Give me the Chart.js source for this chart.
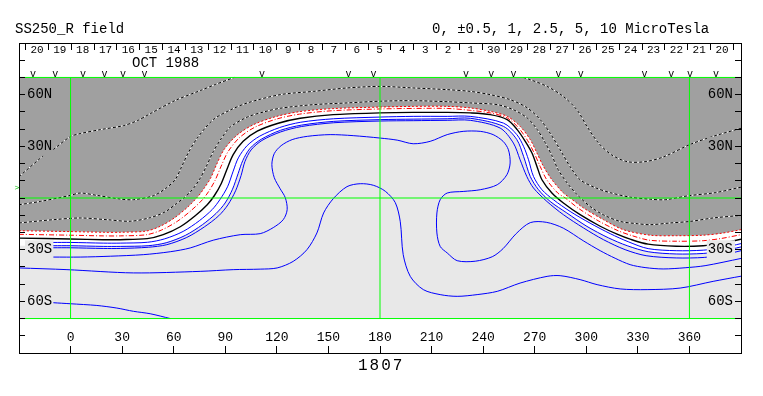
<!DOCTYPE html>
<html><head><meta charset="utf-8">
<style>
html,body{margin:0;padding:0;background:#fff;}
#wrap{position:relative;width:763px;height:396px;overflow:hidden;background:#fff;}
canvas{position:absolute;left:0;top:0;}
.t{position:absolute;font-family:'Liberation Mono',monospace;color:#000;white-space:pre;line-height:16px;}
</style>
<script src="https://cdn.jsdelivr.net/npm/chart.js@4.4.1/dist/chart.umd.min.js"></script>
</head><body>
<div id="wrap">
<canvas id="c" width="763" height="396"></canvas>
<div class="t" style="left:15px;top:21px;font-size:14px;">SS250_R field</div>
<div class="t" style="left:432px;top:21px;font-size:14px;">0, ±0.5, 1, 2.5, 5, 10 MicroTesla</div>
<div class="t" style="left:132px;top:55px;font-size:14px;">OCT 1988</div>
<div class="t" style="left:358px;top:357px;font-size:16px;line-height:18px;letter-spacing:2px;">1807</div>
</div>
<script>
// ---- tick labels ----
const dayLabels = ['20','19','18','17','16','15','14','13','12','11','10','9','8','7','6','5','4','3','2','1','30','29','28','27','26','25','24','23','22','21','20'];
const lonTicks = [0,30,60,90,120,150,180,210,240,270,300,330,360];
const latTicks = [-90,-80,-70,-60,-50,-40,-30,-20,-10,0,10,20,30,40,50,60,70,80,90];
const latNames = {'60':'60N','30':'30N','-30':'30S','-60':'60S'};
const vMarkLons = [-21.9,-8.9,7.2,19.8,30.5,43.0,111.3,161.7,176.2,230.1,244.7,257.6,283.8,296.8,333.8,349.4,360.4,375.5];
const vMarkLat = 72;
const sideMark = [-31.2, 6];

// ---- reference lines ----
const lat70 = [[-30,70],[390,70]];
const equator = [[-30,0],[390,0]];
const latS70 = [[-30,-70],[390,-70]];
const mer0 = [[0,-70],[0,70]];
const mer180 = [[180,-70],[180,70]];
const mer360 = [[360,-70],[360,70]];

// ---- contour lines [lon, lat] ----
const d1West = [[-30,12.4],[-15.9,24.6],[-13,null],[-10.1,28.1],[-0.2,35.6],[5.6,37.4],[17.3,39.7],[30.7,42.0],[38.8,44.9],[46.4,49.0],[60.8,56.6],[75.5,62.4],[84.2,65.9],[95.2,70]];
const d1East = [[263.3,70],[267.4,68.7],[277.2,64.8],[286.6,59.0],[294.7,51.0],[300.5,41.4],[306.9,32.2],[314.5,25.2],[323.8,21.1],[334.2,21.1],[344.7,23.8],[360.4,31.1],[373.8,35.8],[390,40.5]];
const d2 = [[-30,-3.9],[-17.6,-2.0],[-0.2,1.5],[5.6,2.9],[15.5,1.5],[28.9,-0.6],[36.5,-1.0],[48.1,1.3],[55.1,5.4],[60.8,10.6],[64.9,18.8],[68.5,26.3],[73.7,34.8],[83.0,45.5],[92.9,51.1],[102.8,55.2],[121.9,60.0],[141.2,61.9],[160.9,63.9],[180.1,64.8],[199.3,63.9],[219.1,62.9],[232.5,61.9],[244.1,60.0],[255.7,57.1],[265.6,52.4],[273.2,45.5],[279.0,37.6],[284.8,28.0],[290.6,18.2],[296.4,10.6],[305.2,6.0],[313.9,3.1],[325.5,0.5],[337.2,-0.7],[345.9,-1.0],[359.3,1.3],[375.0,3.1],[390,6.3]];
const d3 = [[-30,-14.5],[-10.1,-12.6],[5.6,-11.6],[21.3,-12.6],[34.7,-13.5],[46.4,-11.4],[55.1,-8.0],[61.5,-3.3],[66.1,0.2],[70.8,4.8],[74.9,10.6],[78.9,18.2],[83.0,26.9],[87.6,34.4],[92.9,41.2],[102.8,47.0],[112.1,49.9],[121.9,52.1],[141.2,54.2],[160.9,55.2],[180.1,56.2],[199.3,56.5],[219.1,55.9],[232.5,55.2],[248.2,54.2],[257.5,51.3],[265.6,46.5],[271.5,39.7],[276.1,32.1],[280.2,24.2],[283.6,16.5],[288.9,8.7],[294.7,1.9],[302.2,-4.9],[309.8,-9.7],[319.7,-13.6],[329.6,-14.9],[337.2,-15.5],[348.8,-14.5],[360.4,-13.6],[373.8,-11.6],[390,-10.1]];
const r1 = [[-30,-19.0],[-0.2,-19.5],[19.0,-19.9],[28.9,-19.9],[44.0,-19.2],[52.2,-16.4],[60.6,-11.4],[68.3,-5.1],[74.3,1.1],[77.5,5.4],[81.4,11.4],[85.0,19.6],[89.4,28.3],[96.8,36.5],[106.4,42.6],[119.6,47.3],[133.0,50.1],[152.6,51.9],[180.1,52.8],[199.3,53.2],[219.1,53.2],[232.5,52.3],[244.1,50.3],[254.0,47.4],[261.5,41.6],[267.4,33.9],[271.3,26.1],[275.1,18.3],[280.0,10.6],[286.7,2.9],[290.6,0.0],[298.4,-5.8],[310.0,-12.6],[321.6,-18.4],[337.2,-21.6],[352.3,-21.9],[368.0,-21.6],[379.1,-20.4],[390,-18.4]];
const r2 = [[-30,-21.1],[-0.2,-21.6],[19.0,-22.0],[28.9,-22.0],[44.3,-21.3],[52.9,-18.6],[62.0,-13.6],[70.1,-7.3],[76.6,-1.1],[80.2,3.6],[84.0,10.1],[87.6,18.5],[91.6,26.9],[98.2,35.0],[107.2,41.1],[120.0,45.9],[133.2,48.7],[152.6,50.7],[180.1,51.7],[199.3,52.0],[219.1,52.0],[232.5,50.9],[244.1,49.4],[254.0,46.5],[260.7,40.6],[265.9,33.3],[269.7,26.1],[273.2,18.3],[277.0,10.6],[283.4,2.9],[287.8,0.0],[295.3,-5.9],[306.9,-13.2],[318.5,-19.0],[326.7,-21.9],[336.6,-24.5],[352.3,-25.1],[368.0,-24.8],[378.5,-23.5],[390,-21.3]];
const k0 = [[-30,-23.3],[-0.2,-23.8],[19.0,-24.2],[28.9,-24.2],[44.6,-23.6],[53.9,-21.3],[63.8,-16.7],[72.5,-10.3],[79.5,-3.9],[83.6,1.3],[87.6,8.3],[91.1,17.0],[94.6,25.2],[100.4,32.9],[108.6,38.8],[120.8,43.4],[133.6,46.3],[152.8,48.4],[180.1,49.4],[199.3,49.7],[219.1,49.7],[232.5,49.4],[244.1,48.4],[254.0,45.5],[259.8,39.7],[264.5,32.9],[268.4,26.1],[271.3,18.3],[274.2,10.6],[280.0,2.9],[286.7,-2.9],[296.4,-9.7],[308.1,-16.4],[317.9,-21.0],[325.5,-23.9],[336.0,-26.8],[352.3,-28.0],[368.0,-27.7],[379.1,-26.2],[390,-23.9]];
const b1 = [[-10.1,-25.8],[-0.2,-25.8],[19.0,-26.2],[28.9,-26.2],[44.8,-25.7],[54.8,-23.7],[65.5,-19.4],[74.9,-13.2],[82.4,-6.7],[86.9,-0.9],[91.3,6.5],[94.6,15.6],[97.6,23.3],[102.7,30.4],[110.0,35.9],[121.6,40.9],[133.9,44.0],[153.0,46.0],[180.1,47.0],[199.3,47.4],[219.1,47.4],[232.5,47.4],[251.8,43.5],[259.6,36.8],[263.5,30.0],[266.4,22.2],[269.3,12.5],[274.2,4.8],[280.9,-1.0],[290.6,-7.8],[302.2,-14.6],[313.9,-20.7],[324.4,-25.4],[336.0,-29.4],[352.3,-30.6],[368.0,-30.3],[379.1,-28.9],[390,-26.5]];
const b2 = [[-30,-27.7],[-10.1,-27.7],[-0.2,-27.7],[19.0,-28.1],[28.9,-28.1],[45.1,-27.7],[55.6,-26.0],[66.8,-21.7],[76.7,-15.5],[84.7,-8.9],[89.9,-2.9],[94.2,5.1],[97.5,14.3],[100.2,21.8],[104.3,28.7],[110.9,34.1],[122.1,39.3],[134.2,42.3],[153.1,44.5],[180.1,45.5],[199.3,45.8],[219.1,46.0],[232.5,46.3],[251.8,41.6],[259.6,33.9],[263.5,24.2],[267.4,12.5],[272.2,4.8],[279.0,-2.0],[288.7,-8.7],[300.4,-16.5],[312.8,-23.1],[323.8,-27.7],[336.0,-31.2],[352.3,-32.5],[368.0,-32.2],[379.7,-30.7],[390,-28.4]];
const b3 = [[-10.1,-28.9],[-0.2,-28.9],[19.0,-29.3],[28.9,-29.3],[45.2,-28.6],[56.0,-27.1],[67.6,-22.9],[77.8,-16.8],[86.2,-10.3],[91.5,-4.0],[96.0,4.2],[99.2,13.1],[101.4,21.1],[105.0,27.9],[111.3,33.4],[122.3,38.4],[134.4,41.5],[153.1,43.7],[180.1,44.7],[199.3,44.9],[219.1,45.1],[232.5,45.1],[249.9,40.6],[257.6,31.9],[261.5,22.2],[265.4,12.5],[269.3,5.8],[277.1,-2.0],[286.7,-9.7],[298.4,-17.4],[310.0,-24.2],[322.6,-30.0],[334.8,-33.5],[352.3,-34.8],[368.6,-34.5],[380.2,-32.9],[390,-30.6]];
const c1 = [[-10.1,-34.3],[5.6,-34.3],[23.1,-33.8],[42.3,-32.9],[58.0,-31.2],[69.6,-29.0],[83.0,-24.5],[98.7,-21.3],[110.3,-20.7],[117.9,-17.2],[123.7,-12.6],[126.0,-6.8],[124.9,0.2],[121.9,5.4],[118.5,11.8],[117.1,19.4],[118.5,25.8],[122.5,30.4],[128.9,33.9],[137.7,35.8],[151.0,36.8],[164.4,36.2],[180.1,34.8],[190.0,33.6],[199.3,31.5],[209.2,32.9],[219.1,36.8],[228.4,38.7],[238.3,38.7],[245.8,36.8],[251.6,32.9],[254.7,28.0],[255.7,20.3],[253.8,13.5],[248.2,7.7],[238.3,4.8],[228.4,3.8],[219.1,2.9],[215.0,-1.0],[213.1,-8.7],[213.1,-20.3],[215.0,-28.1],[219.1,-31.9],[224.9,-36.4],[235.4,-36.7],[245.3,-34.1],[251.6,-29.4],[259.2,-20.7],[267.4,-14.3],[276.7,-14.1],[286.6,-17.5],[298.2,-24.8],[308.1,-30.6],[316.8,-35.0],[325.5,-38.7],[334.2,-40.4],[344.7,-41.2],[357.5,-40.5],[369.1,-39.3],[390,-35.1]];
const c2 = [[-30,-40.6],[-2.1,-41.6],[36.5,-43.5],[75.4,-42.6],[94.6,-41.6],[110.3,-41.3],[120.2,-40.6],[129.5,-36.8],[137.5,-30.0],[143.3,-20.3],[147.2,-8.7],[152.8,-0.4],[160.8,6.6],[168.5,8.3],[176.1,7.4],[183.1,3.9],[188.9,-2.7],[191.8,-13.8],[193.5,-32.9],[197.6,-45.5],[205.2,-53.2],[215.0,-56.1],[224.9,-57.1],[236.5,-56.1],[248.2,-54.2],[261.5,-49.4],[277.2,-45.5],[284.8,-45.1],[296.4,-47.4],[306.3,-50.3],[319.7,-52.8],[335.4,-53.2],[354.6,-52.3],[373.8,-48.4],[390,-45.4]];
const c3 = [[-10.1,-60.8],[-0.2,-61.4],[15.3,-62.4],[26.9,-63.9],[36.6,-65.8],[46.3,-67.2],[58.0,-70]];

// ---- colours ----
const DARK = '#a0a0a0', LIGHT = '#e8e8e8', BLUE = '#0000ff', RED = '#ff0000', GREEN = '#00ff00';
const FONT = "'Liberation Mono', monospace";

function pts(a){ return a.map(p => ({x: p[0], y: p[1]})); }
function ds(a, color, extra){
  return Object.assign({data: pts(a), borderColor: color, backgroundColor: color, borderWidth: 1,
    pointRadius: 0, pointHoverRadius: 0, fill: false, tension: 0.3, order: 10,
    xAxisID: 'x', yAxisID: 'y'}, extra || {});
}
const datasets = [
  ds(latS70, 'rgba(0,0,0,0)', {fill: {value: 70}, backgroundColor: LIGHT, order: 100, tension: 0}),
  ds(b2, BLUE, {fill: {value: 70}, backgroundColor: '#ffffff', order: 90,
    segment: {borderColor: c => c.p0DataIndex === 0 ? 'rgba(0,0,0,0)' : undefined}}),
  ds(r1, RED, {fill: {value: 70}, backgroundColor: DARK, order: 80, borderDash: [2, 2]}),
  ds(d1West, '#ffffff', {order: 12}), ds(d1West, '#000', {order: 11, borderDash: [3, 2]}),
  ds(d1East, '#ffffff', {order: 12}), ds(d1East, '#000', {order: 11, borderDash: [3, 2]}),
  ds(d2, '#ffffff', {order: 12}), ds(d2, '#000', {order: 11, borderDash: [3, 2]}),
  ds(d3, '#ffffff', {order: 12}), ds(d3, '#000', {order: 11, borderDash: [3, 2]}),
  ds(r2, RED, {borderDash: [5, 2, 1, 2]}),
  ds(k0, '#000', {borderWidth: 1.4}),
  ds(b1, BLUE), ds(b3, BLUE), ds(c1, BLUE), ds(c2, BLUE), ds(c3, BLUE),
  ds(lat70, GREEN, {order: 1, tension: 0}),
  ds(equator, GREEN, {order: 1, tension: 0}),
  ds(latS70, GREEN, {order: 1, tension: 0}),
  ds(mer0, GREEN, {order: 1, tension: 0}),
  ds(mer180, GREEN, {order: 1, tension: 0}),
  ds(mer360, GREEN, {order: 1, tension: 0})
];

const marks = {
  id: 'marks',
  afterDraw(chart){
    const {ctx, scales: {x, y}} = chart;
    ctx.save();
    ctx.font = "10px 'Liberation Mono', monospace";
    ctx.fillStyle = '#000';
    ctx.textAlign = 'center';
    ctx.textBaseline = 'middle';
    vMarkLons.forEach(l => ctx.fillText('v', x.getPixelForValue(l), y.getPixelForValue(vMarkLat)));
    ctx.fillStyle = '#00c000';
    ctx.font = "8px 'Liberation Mono', monospace";
    ctx.fillText('>', x.getPixelForValue(sideMark[0]), y.getPixelForValue(sideMark[1]));
    ctx.restore();
  }
};

const topTicks = [];
dayLabels.forEach((d, i) => { topTicks.push(i - 0.5, i); });
topTicks.push(dayLabels.length - 0.5);

const latCb = v => latNames[v] || '';
const backdrop = c => {
  const v = c.tick ? c.tick.value : 0;
  if (!latNames[v]) return 'rgba(0,0,0,0)';
  return v > 0 ? DARK : LIGHT;
};
const yCommon = (pos, pad, bpad) => ({
  type: 'linear', position: pos, min: -90, max: 90,
  afterBuildTicks: s => { s.ticks = latTicks.map(v => ({value: v})); },
  afterFit: s => { s.width = 0; },
  grid: {drawOnChartArea: false, drawTicks: true, tickLength: -6, color: '#000', z: 1},
  border: {display: true, color: '#000', width: 1, z: 1},
  ticks: {mirror: true, padding: pad, autoSkip: false, color: '#000', z: 1,
    font: {family: FONT, size: 14}, callback: latCb,
    showLabelBackdrop: true, backdropColor: backdrop, backdropPadding: bpad}
});

Chart.defaults.font.family = FONT;
new Chart(document.getElementById('c'), {
  type: 'line',
  data: {datasets},
  options: {
    responsive: false, animation: false, events: [],
    layout: {padding: {left: 19, right: 22, top: 43, bottom: 43}},
    plugins: {legend: {display: false}, tooltip: {enabled: false}},
    scales: {
      x: {
        type: 'linear', position: 'bottom', min: -30, max: 390,
        afterBuildTicks: s => { s.ticks = lonTicks.map(v => ({value: v})); },
        afterFit: s => { s.height = 0; },
        grid: {drawOnChartArea: false, drawTicks: true, tickLength: -7, color: '#000', z: 1},
        border: {display: true, color: '#000', width: 1, z: 1},
        ticks: {mirror: true, padding: 7.5, autoSkip: false, maxRotation: 0, minRotation: 0,
          color: '#000', z: 1, font: {family: FONT, size: 13}, callback: v => String(v)}
      },
      x2: {
        type: 'linear', position: 'top', min: -0.79, max: 30.83,
        afterBuildTicks: s => { s.ticks = topTicks.map(v => ({value: v})); },
        afterFit: s => { s.height = 0; },
        grid: {drawOnChartArea: false, drawTicks: true, tickLength: -7, z: 1,
          tickColor: c => (c.tick && Number.isInteger(c.tick.value)) ? 'rgba(0,0,0,0)' : '#000'},
        border: {display: true, color: '#000', width: 1, z: 1},
        ticks: {mirror: true, padding: 0, autoSkip: false, maxRotation: 0, minRotation: 0,
          color: '#000', z: 1, font: {family: FONT, size: 11},
          callback: v => Number.isInteger(v) ? dayLabels[v] : ''}
      },
      y: yCommon('left', 8, {top: 1, bottom: 1, left: 2, right: 1}),
      y2: yCommon('right', -8, {top: 1, bottom: 1, left: 1, right: 2})
    }
  },
  plugins: [marks]
});
</script>
</body></html>
